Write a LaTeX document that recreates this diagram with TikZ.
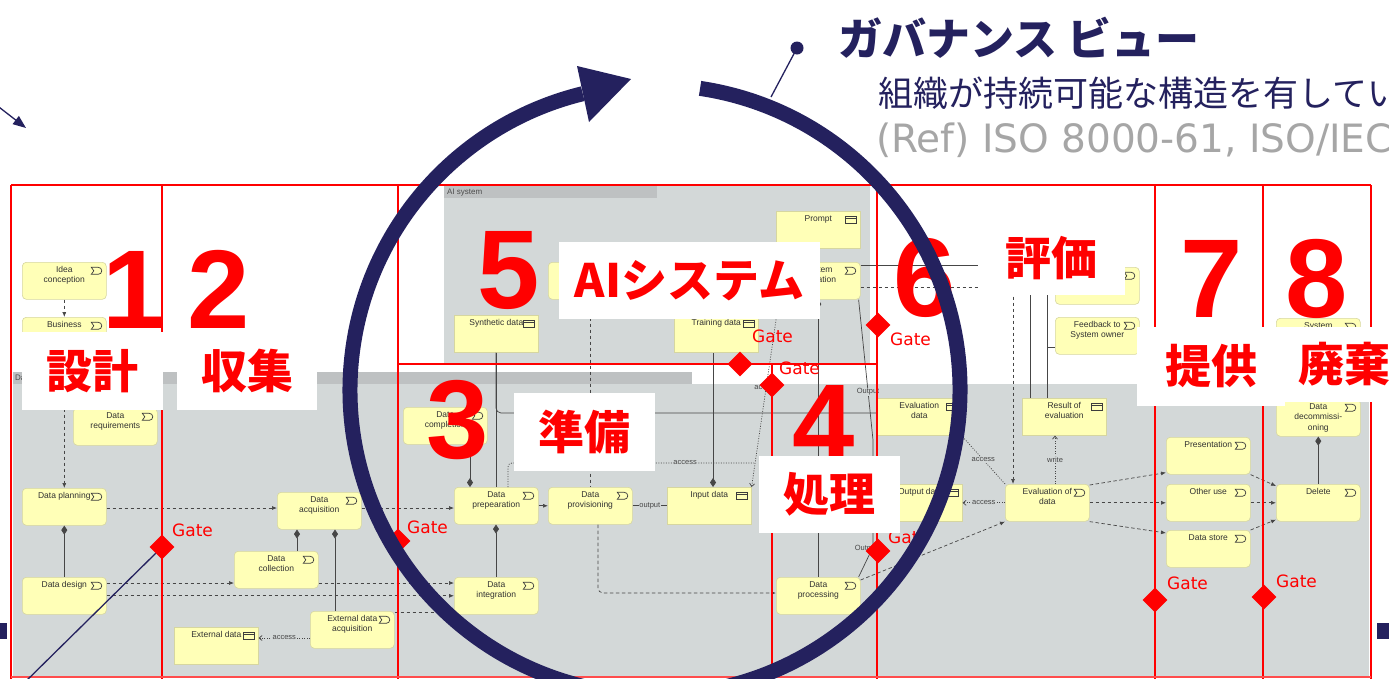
\documentclass[tikz,border=0pt]{standalone}
\usepackage{fontspec}
\usetikzlibrary{arrows.meta,shapes.geometric}
\newfontfamily\jpf{Noto Sans CJK JP}
\newfontfamily\dvf{DejaVu Sans}
\newfontfamily\lbf{Liberation Sans}
\definecolor{navy}{RGB}{36,33,94}
\definecolor{gbg}{RGB}{211,216,216}
\definecolor{ghd}{RGB}{190,193,194}
\definecolor{boxy}{RGB}{255,255,183}
\definecolor{boxb}{RGB}{214,214,160}
\definecolor{lk}{RGB}{70,70,70}
\definecolor{txt}{RGB}{50,50,50}
\definecolor{icon}{RGB}{60,60,60}
\definecolor{refgray}{RGB}{166,166,166}
\definecolor{rd}{RGB}{255,0,0}
\newcommand{\boxtxt}[1]{\parbox[c][35pt][t]{82pt}{\centering\vspace*{3pt}#1}}
\tikzset{
 bx/.style={draw=boxb, fill=boxy, line width=0.6pt, inner sep=1pt, minimum width=84pt, minimum height=37pt, anchor=north west, font=\lbf\fontsize{8.5}{10.5}\selectfont, text=txt},
 icn/.style={draw=icon, line width=0.7pt, sharp corners, fill=none},
 proc/.style={bx, rounded corners=4pt, path picture={\draw[icn] ([shift={(-15,5)}]path picture bounding box.north east) -- ++(7,0) arc[start angle=-90,end angle=90,radius=3.5] -- ++(-7,0) -- ++(2.5,-3.5) -- cycle;}},
 dat/.style={bx, path picture={\draw[icn] ([shift={(-15,5)}]path picture bounding box.north east) rectangle ++(11,7); \draw[icn] ([shift={(-15,7.5)}]path picture bounding box.north east) -- ++(11,0);}},
 cn/.style={draw=lk, line width=0.7pt},
 flow/.style={cn, dash pattern=on 3.5pt off 2.5pt, -{Latex[length=5pt,width=4pt]}},
 trg/.style={cn, -{Latex[length=5pt,width=4pt]}},
 acc/.style={cn, dash pattern=on 1pt off 1.5pt, -{Straight Barb[length=3pt,width=5pt]}},
 acd/.style={cn, dash pattern=on 1pt off 1.5pt},
 comp/.style={cn, {Diamond[length=9pt,width=6pt]}-},
 lbl/.style={fill=gbg, inner sep=0.8pt, font=\lbf\fontsize{7.5}{8}\selectfont, text=lk},
 hdtxt/.style={inner sep=0, font=\lbf\fontsize{8}{9}\selectfont, text=black!70},
 rl/.style={draw=rd, line width=2.6pt},
 gate/.style={diamond, fill=rd, inner sep=0, minimum width=25pt, minimum height=25pt},
 gtxt/.style={text=rd, font=\dvf\fontsize{17}{17}\selectfont, inner sep=0, anchor=west},
 dg/.style={text=rd, font=\lbf\bfseries\fontsize{112}{112}\selectfont, inner sep=0, anchor=base},
 lab/.style={fill=white, text=rd, font=\jpf\bfseries\fontsize{46}{46}\selectfont, inner sep=0},
}
\begin{document}
\begin{tikzpicture}[x=1pt,y=-1pt]
\useasboundingbox (0,0) rectangle (1389,678);
\clip (0,0) rectangle (1389,678);
\fill[white] (0,0) rectangle (1389,678);

% gray backgrounds
\fill[gbg] (444,186) rectangle (870,364);
\fill[ghd] (444,186) rectangle (657,198);
\node[hdtxt, anchor=west] (aisys) at (447,192.5) {AI system};
\fill[gbg] (13,384) rectangle (1369,678);
\fill[ghd] (13,372) rectangle (692,384);
\node[hdtxt, anchor=west] (dlab) at (15,378) {Data};

% titles
\node[anchor=west, inner sep=0, text=navy, font=\jpf\bfseries\fontsize{44}{44}\selectfont] (title) at (838,38) {ガバナンス ビュー};
\node[anchor=west, inner sep=0, text=navy, font=\jpf\fontsize{35}{35}\selectfont] (sub) at (878,93) {組織が持続可能な構造を有してい};
\node[anchor=west, inner sep=0, text=refgray, font=\dvf\fontsize{39}{39}\selectfont] (ref) at (876,140) {(Ref) ISO 8000-61, ISO/IEC};

% boxes
\node[proc] (ic) at (22,262) {\boxtxt{Idea\\conception}};
\node[proc] (bus) at (22,317) {\boxtxt{Business}};
\node[proc] (dreq) at (73,408) {\boxtxt{Data\\requirements}};
\node[proc] (dpl) at (22,488) {\boxtxt{Data planning}};
\node[proc] (ddes) at (22,577) {\boxtxt{Data design}};
\node[proc] (dacq) at (277,492) {\boxtxt{Data\\acquisition}};
\node[proc] (dcol) at (234,551) {\boxtxt{Data\\collection}};
\node[proc] (eacq) at (310,611) {\boxtxt{External data\\acquisition}};
\node[dat] (edata) at (174,627) {\boxtxt{External data}};
\node[proc] (dcomp) at (403,407) {\boxtxt{Data\\completion}};
\node[proc] (dprep) at (454,487) {\boxtxt{Data\\prepearation}};
\node[proc] (dint) at (454,577) {\boxtxt{Data\\integration}};
\node[proc] (dprov) at (548,487) {\boxtxt{Data\\provisioning}};
\node[dat] (inp) at (667,487) {\boxtxt{Input data}};
\node[proc] (dproc) at (776,577) {\boxtxt{Data\\processing}};
\node[dat] (synth) at (454,315) {\boxtxt{Synthetic data}};
\node[proc] (aib) at (548,262) {\boxtxt{}};
\node[dat] (train) at (674,315) {\boxtxt{Training data}};
\node[dat] (prompt) at (776,211) {\boxtxt{Prompt}};
\node[proc] (sys) at (776,262) {\boxtxt{System\\operation}};
\node[dat] (evd) at (877,398) {\boxtxt{Evaluation\\data}};
\node[dat] (outd) at (878,484) {\boxtxt{Output data}};
\node[proc] (evof) at (1005,484) {\boxtxt{Evaluation of\\data}};
\node[dat] (roe) at (1022,398) {\boxtxt{Result of\\evaluation}};
\node[proc] (hb) at (1055,267) {\boxtxt{}};
\node[proc] (fb) at (1055,317) {\boxtxt{Feedback to\\System owner}};
\node[proc] (pres) at (1166,437) {\boxtxt{Presentation}};
\node[proc] (other) at (1166,484) {\boxtxt{Other use}};
\node[proc] (dstore) at (1166,530) {\boxtxt{Data store}};
\node[proc] (del) at (1276,484) {\boxtxt{Delete}};
\node[proc] (ddec) at (1276,399) {\boxtxt{Data\\decommissi-\\oning}};
\node[proc] (sys8) at (1276,318) {\boxtxt{System}};

% connectors
\draw[flow] (ic.south) -- (bus.north);
\draw[flow] (bus.south) -- (dpl.north);
\draw[comp] (dpl.south) -- (ddes.north);
\draw[flow] (dpl.east |- 0,508) -- (dacq.west |- 0,508);
\draw[flow] (ddes.east |- 0,583) -- (dcol.west |- 0,583);
\draw[flow] (ddes.east) -- (ddes.east -| dint.west);
\draw[flow] (dcol.east |- 0,583) -- (dint.west |- 0,583);
\draw[comp] (dacq.south -| 297,0) -- (dcol.north -| 297,0);
\draw[comp] (dacq.south -| 335,0) -- (eacq.north -| 335,0);
\draw[acc] (eacq.west |- 0,638) -- node[lbl] (l1) {access} (edata.east |- 0,638);
\draw[flow] (eacq.east |- 0,612) -- (dint.west |- 0,612);
\draw[flow] (dacq.east |- 0,508) -- (dprep.west |- 0,508);
\draw[comp] (dprep.north -| 470,0) -- (dcomp.south -| 470,0);
\draw[comp] (dprep.south -| 496,0) -- (dint.north -| 496,0);
\draw[cn, rounded corners=5pt] (synth.south -| 496,0) |- (evd.west |- 0,413);
\draw[cn] (synth.south -| 496,0) -- (dprep.north -| 496,0);
\draw[trg] (dprep.east) -- (dprov.west);
\draw[cn] (dprov.east) -- node[lbl] (l2) {output} (inp.west);
\draw[cn, dashed] (aib.south) -- (dprov.north);
\draw[comp] (inp.north -| 713,0) -- (train.south -| 713,0);
\draw[acc] ([xshift=3pt]sys.south west) -- node[lbl, pos=0.47] (l3) {access} (inp.north east);
\coordinate (m1) at (754,463);
\draw[acd, rounded corners=4pt] (dprep.north -| 508,0) |- node[lbl, pos=0.86] (l4) {access} (m1);
\draw[flow, rounded corners=5pt] (dprov.south -| 598,0) |- (dproc.west |- 0,593);
\draw[comp] (sys.south) -- (dproc.north);
\coordinate (o1) at (873,440);
\coordinate (o2) at (873,547);
\draw[cn] ([xshift=-2pt]sys.south east) -- (o1) -- (o2) -- ([xshift=-2pt]dproc.north east);
\node[lbl] (l5) at (868,392) {Output};
\node[lbl] (l6) at (866,549) {Output};
\draw[flow] ([yshift=-3pt]dproc.north east) -- (evof.south west);
\draw[acc] (evof.west) -- node[lbl] (l7) {access} (outd.east);
\draw[acd] (evof.north west) -- node[lbl] (l8) {access} (evd.south east);
\draw[acc] (evof.north -| 1055,0) -- node[lbl] (l9) {write} (roe.south -| 1055,0);
\draw[flow] (sys.east |- 0,287) -| (evof.north -| 1013,0);
\draw[cn] (sys.east |- 0,265) -| (roe.north -| 1030,0);
\draw[cn] (hb.west) -| (roe.north -| 1047,0);
\draw[cn] (fb.west |- 0,347) -- ++(-8,0);
\draw[flow] ([yshift=-1pt]evof.north east) -- ([yshift=2pt]pres.south west);
\draw[flow] (evof.east) -- (other.west);
\draw[flow] (evof.south east) -- ([yshift=-3pt]dstore.north west);
\draw[flow] (pres.south east) -- ([yshift=-2pt]del.north west);
\draw[flow] (other.east) -- (del.west);
\draw[flow] (dstore.north east) -- ([yshift=2pt]del.south west);
\draw[comp] (ddec.south) -- (del.north);

% red frame
\draw[rl] (11,185) -- (1371,185);
\foreach \xx in {11,162,398,877,1155,1263,1371} {\draw[rl] (\xx,185) -- (\xx,680);}
\draw[rl] (772,364) -- (772,680);
\draw[rl] (398,364) -- (877,364);
\draw[draw=rd!70, line width=1.2pt] (11,677) -- (1371,677);

% gates
\node[gate] (g1) at (162,547) {};
\node[gtxt] (gt1) at (172,530) {Gate};
\node[gate] (g2) at (398,541) {};
\node[gtxt] (gt2) at (407,527) {Gate};
\node[gate] (g3) at (740,364) {};
\node[gtxt] (gt3) at (752,336) {Gate};
\node[gate] (g4) at (772,385) {};
\node[gtxt] (gt4) at (779,368) {Gate};
\node[gate] (g5) at (878,325) {};
\node[gtxt] (gt5) at (890,339) {Gate};
\node[gate] (g6) at (878,551) {};
\node[gtxt] (gt6) at (888,537) {Gate};
\node[gate] (g7) at (1155,600) {};
\node[gtxt] (gt7) at (1167,583) {Gate};
\node[gate] (g8) at (1264,597) {};
\node[gtxt] (gt8) at (1276,581) {Gate};

% digits
\node[dg] (n1) at (134,328) {1};
\node[dg] (n2) at (219,328) {2};
\node[dg] (n3) at (458,458) {3};
\node[dg] (n4) at (824,462) {4};
\node[dg] (n5) at (509,308) {5};
\node[dg] (n6) at (925,316) {6};
\node[dg] (n7) at (1212,317) {7};
\node[dg] (n8) at (1317,317) {8};

% white labels
\node[lab, minimum width=141pt, minimum height=78pt] (t1) at (92.5,371) {設計};
\node[lab, minimum width=140pt, minimum height=78pt] (t2) at (247,371) {収集};
\node[lab, minimum width=261pt, minimum height=77pt] (t5) at (689.5,280.5) {AIシステム};
\node[lab, minimum width=141pt, minimum height=78pt] (t3) at (584.5,432) {準備};
\node[lab, minimum width=141pt, minimum height=77pt] (t4) at (829.5,494.5) {処理};
\node[lab, minimum width=147pt, minimum height=73pt] (t6) at (1051.5,258.5) {評価};
\node[lab, minimum width=208pt, minimum height=75pt] (t8) at (1344,364.5) {廃棄};
\node[lab, minimum width=148pt, minimum height=79pt] (t7) at (1211,366.5) {提供};

% ring and pointers
\draw[navy, line width=15pt] (655,390) ++(-81.5:305) arc[start angle=-81.5, end angle=256.3, radius=305];
\fill[navy] (577,66) -- (631,79) -- (589,122) -- cycle;
\coordinate (p1) at (771,97);
\coordinate (p2) at (797,48);
\draw[navy, line width=1.3pt] (p1) -- (p2);
\fill[navy] (p2) circle (6.5);
\coordinate (q1) at (-5,104);
\coordinate (q2) at (26,128);
\draw[navy, line width=1.3pt, -{Triangle[length=13pt,width=10pt]}] (q1) -- (q2);
\coordinate (r2) at (20,687);
\draw[navy, line width=1.3pt] (g1.south west) -- (r2);
\fill[navy] (0,623) rectangle (7,639);
\fill[navy] (1377,623) rectangle (1389,639);
\end{tikzpicture}
\end{document}
